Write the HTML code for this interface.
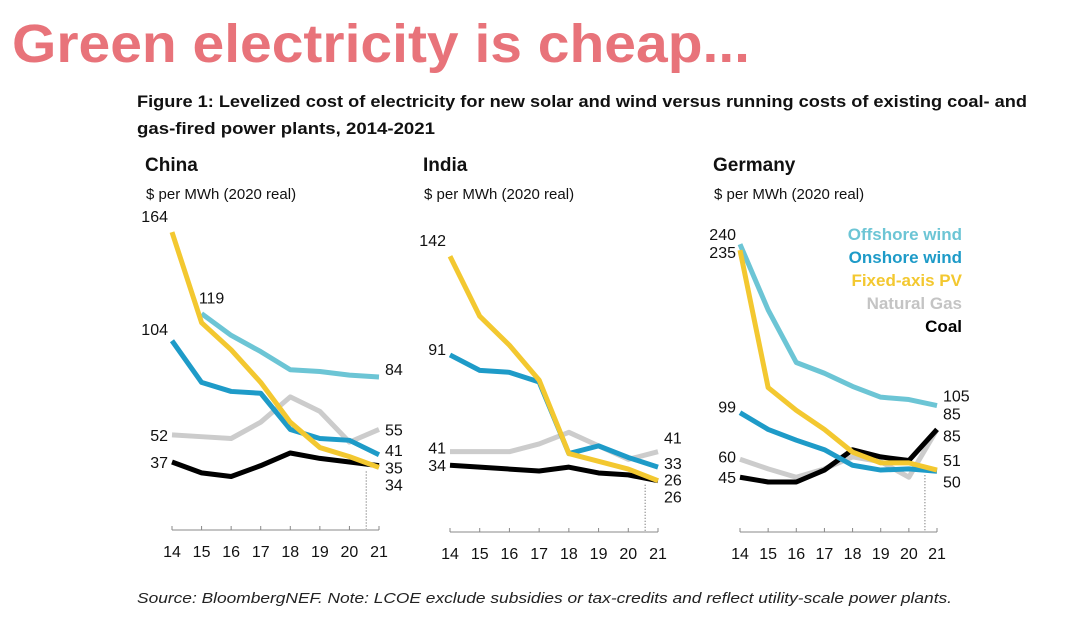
<!DOCTYPE html>
<html><head><meta charset="utf-8"><style>
html,body{margin:0;padding:0;background:#fff;}
svg{display:block;font-family:"Liberation Sans",sans-serif;}
</style></head><body>
<svg id="chart" width="1068" height="621" viewBox="0 0 1068 621" xmlns="http://www.w3.org/2000/svg">
<text x="12" y="62" font-size="54" font-weight="bold" fill="#e8737a" textLength="738" lengthAdjust="spacingAndGlyphs">Green electricity is cheap...</text>
<text x="137" y="107" font-size="17" font-weight="bold" fill="#111" textLength="890" lengthAdjust="spacingAndGlyphs">Figure 1: Levelized cost of electricity for new solar and wind versus running costs of existing coal- and</text>
<text x="137" y="134" font-size="17" font-weight="bold" fill="#111" textLength="298" lengthAdjust="spacingAndGlyphs">gas-fired power plants, 2014-2021</text>
<text x="137" y="603" font-size="15" font-style="italic" fill="#222" textLength="815" lengthAdjust="spacingAndGlyphs">Source: BloombergNEF. Note: LCOE exclude subsidies or tax-credits and reflect utility-scale power plants.</text>
<g id="panels"></g>
<g font-weight="bold" font-size="17" text-anchor="end">
<text x="962" y="240" fill="#6cc5d5">Offshore wind</text>
<text x="962" y="263" fill="#1e9bc8">Onshore wind</text>
<text x="962" y="286" fill="#f3c830">Fixed-axis PV</text>
<text x="962" y="309" fill="#c4c4c4">Natural Gas</text>
<text x="962" y="332" fill="#000">Coal</text>
</g>
</svg>
<script>
const years = [14,15,16,17,18,19,20,21];
const chinaOffshore = [null,119,107,98,88,87,85,84];
const chinaOnshore = [104,81,76,75,55,50,49,41];
const chinaPV = [164,114,99,81,59,45,40,34];
const chinaGas = [52,51,50,59,73,65,48,55];
const chinaCoal = [37,31,29,35,42,39,37,35];
const indiaOnshore = [91,83,82,77,40,44,38,33];
const indiaPV = [142,111,96,78,40,36,32,26];
const indiaGas = [41,41,41,45,51,44,37,41];
const indiaCoal = [34,33,32,31,33,30,29,26];
const germanyOffshore = [240,185,141,132,121,112,110,105];
const germanyOnshore = [99,85,76,68,55,51,52,50];
const germanyPV = [235,120,101,85,66,57,57,51];
const germanyGas = [60,52,45,52,62,58,45,85];
const germanyCoal = [45,41,41,51,68,62,59,85];

const NS='http://www.w3.org/2000/svg';
const root=document.getElementById('panels');
function mk(tag,attrs,parent){const e=document.createElementNS(NS,tag);for(const k in attrs)e.setAttribute(k,attrs[k]);parent.appendChild(e);return e;}

const panels=[
 {name:'china',title:'China',x0:172,x1:379,base:529,k:1.81,
  series:[['natural-gas',chinaGas,'#cccccc'],['coal',chinaCoal,'#000'],['offshore-wind',chinaOffshore,'#6cc5d5'],['onshore-wind',chinaOnshore,'#1e9bc8'],['fixed-axis-pv',chinaPV,'#f3c830']],
  startLabels:[[chinaPV,0,-4,-10],[chinaOffshore,1,10,-10],[chinaOnshore,0,-4,-6],[chinaGas,0,-4,6],[chinaCoal,0,-4,6]],
  endLabels:[[chinaOffshore,-2],[chinaGas,6],[chinaOnshore,1],[chinaCoal,8],[chinaPV,23]]},
 {name:'india',title:'India',x0:450,x1:658,base:531,k:1.935,
  series:[['natural-gas',indiaGas,'#cccccc'],['coal',indiaCoal,'#000'],['onshore-wind',indiaOnshore,'#1e9bc8'],['fixed-axis-pv',indiaPV,'#f3c830']],
  startLabels:[[indiaPV,0,-4,-10],[indiaOnshore,0,-4,0],[indiaGas,0,-4,2],[indiaCoal,0,-4,6]],
  endLabels:[[indiaGas,-8],[indiaOnshore,2],[indiaCoal,5],[indiaPV,22]]},
 {name:'germany',title:'Germany',x0:740,x1:937,base:531,k:1.195,
  series:[['natural-gas',germanyGas,'#cccccc'],['coal',germanyCoal,'#000'],['offshore-wind',germanyOffshore,'#6cc5d5'],['onshore-wind',germanyOnshore,'#1e9bc8'],['fixed-axis-pv',germanyPV,'#f3c830']],
  startLabels:[[germanyOffshore,0,-4,-4],[germanyPV,0,-4,8],[germanyOnshore,0,-4,0],[germanyGas,0,-4,3],[germanyCoal,0,-4,6]],
  endLabels:[[germanyOffshore,-4],[germanyCoal,-10],[germanyGas,12],[germanyPV,-4],[germanyOnshore,16]]}
];

panels.forEach(p=>{
 const g=mk('g',{},root);
 
 
 const xs=i=>p.x0+(p.x1-p.x0)*i/(years.length-1);
 const ys=v=>p.base-v*p.k;
 const t=mk('text',{x:p.x0-27,y:171,'font-size':19,'font-weight':'bold',fill:'#111'},g);
 t.textContent=p.title;
 
 
 const u=mk('text',{x:p.x0-26,y:199,'font-size':15,fill:'#111'},g);
 u.textContent='$ per MWh (2020 real)';
 
 
 const ax=mk('line',{x1:p.x0,x2:p.x1,y1:p.base+1,y2:p.base+1,stroke:'#888','stroke-width':1},g);
 
 
 years.forEach((y,i)=>{
  mk('line',{x1:xs(i),x2:xs(i),y1:p.base-3,y2:p.base+1,stroke:'#888'},g);
  const tl=mk('text',{x:xs(i),y:p.base+28,'font-size':16,'text-anchor':'middle',fill:'#111'},g);
  tl.textContent=y;
  
  
 });
 const dx=(xs(6)+xs(7))/2+2;
 let mn=Infinity;p.series.forEach(s=>{mn=Math.min(mn,s[1][7]);});
 mk('line',{x1:dx,x2:dx,y1:ys(mn)+4,y2:p.base,stroke:'#555','stroke-dasharray':'1,2','stroke-width':1},g);
 p.series.forEach(s=>{
  const pts=[];s[1].forEach((v,i)=>{if(v!==null)pts.push(xs(i)+','+ys(v));});
  const pl=mk('polyline',{points:pts.join(' '),fill:'none',stroke:s[2],'stroke-width':5,'stroke-linejoin':'round'},g);
  
  
 });
 p.startLabels.forEach(l=>{
  const arr=l[0],i=l[1];
  const tx=mk('text',{x:xs(i)+l[2],y:ys(arr[i])+l[3],'font-size':16,'text-anchor':i===0?'end':'middle',fill:'#111'},g);
  tx.textContent=arr[i];
  
  
 });
 p.endLabels.forEach(l=>{
  const arr=l[0];
  const tx=mk('text',{x:xs(7)+6,y:ys(arr[7])+l[1],'font-size':16,fill:'#111'},g);
  tx.textContent=arr[7];
  
  
 });
});
</script>
</body></html>
